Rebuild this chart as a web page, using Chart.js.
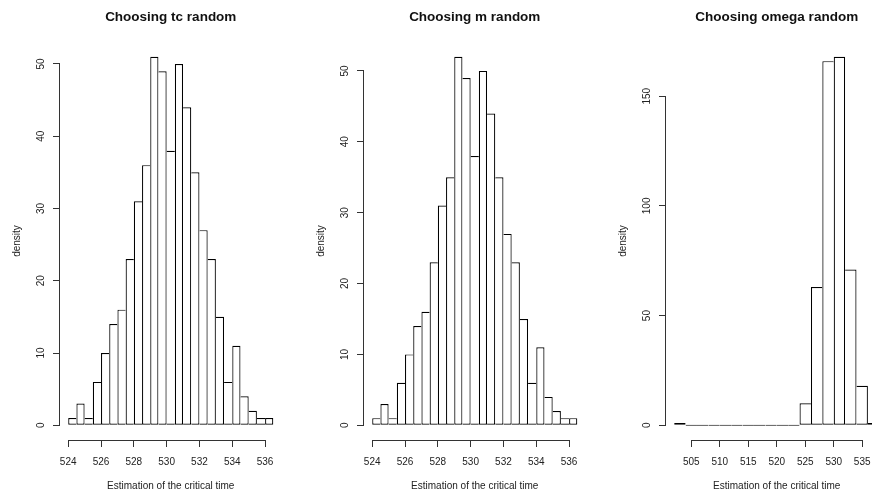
<!DOCTYPE html>
<html>
<head>
<meta charset="utf-8">
<script src="https://cdn.jsdelivr.net/npm/chart.js@4"></script>
<style>
  html, body { margin: 0; padding: 0; background: #fff; }
  body { width: 872px; height: 496px; overflow: hidden; position: relative; }
  canvas { position: absolute; top: 0; }
</style>
</head>
<body>
<canvas id="tcChart" width="302" height="496" style="left:0px"></canvas>
<canvas id="mChart" width="302" height="496" style="left:304px"></canvas>
<canvas id="omegaChart" width="302" height="496" style="left:606px"></canvas>
<script>
// histogram bins (lower edges) and counts
const tcBins = [524, 524.5, 525, 525.5, 526, 526.5, 527, 527.5, 528, 528.5, 529, 529.5, 530,
                530.5, 531, 531.5, 532, 532.5, 533, 533.5, 534, 534.5, 535, 535.5, 536];
const tcCounts = [1, 3, 1, 6, 10, 14, 16, 23, 31, 36, 51, 49, 38, 50, 44, 35, 27, 23, 15, 6, 11, 4, 2, 1, 1];
const mBins = tcBins;
const mCounts = [1, 3, 1, 6, 10, 14, 16, 23, 31, 35, 52, 49, 38, 50, 44, 35, 27, 23, 15, 6, 11, 4, 2, 1, 1];
const omegaBins = [502, 504, 506, 508, 510, 512, 514, 516, 518, 520, 522, 524, 526, 528, 530, 532, 534, 536];
const omegaCounts = [1, 0, 0, 0, 0, 0, 0, 0, 0, 0, 0, 10, 63, 166, 168, 71, 18, 1];

// tick labels
const tcTicksX = [524, 526, 528, 530, 532, 534, 536];
const tcTicksY = [0, 10, 20, 30, 40, 50];
const omegaTicksX = [505, 510, 515, 520, 525, 530, 535];
const omegaTicksY = [0, 50, 100, 150];

const axisColor = '#333';
const textColor = '#222';
Chart.defaults.font.family = '"Liberation Sans", Arial, sans-serif';
Chart.defaults.color = textColor;

// R-style axes: line only from first to last tick, rotated y labels
const rAxes = {
    id: 'rAxes',
    afterDraw(chart) {
        const {ctx, chartArea, scales: {x, y}} = chart;
        const xt = x.ticks, yt = y.ticks;
        ctx.save();
        ctx.strokeStyle = axisColor;
        ctx.lineWidth = 1;
        ctx.beginPath();
        const by = Math.round(chartArea.bottom) + 0.5;
        ctx.moveTo(x.getPixelForValue(xt[0].value), by);
        ctx.lineTo(x.getPixelForValue(xt[xt.length - 1].value), by);
        const lx = Math.round(chartArea.left) - 0.5;
        ctx.moveTo(lx, y.getPixelForValue(yt[0].value));
        ctx.lineTo(lx, y.getPixelForValue(yt[yt.length - 1].value));
        ctx.stroke();

        ctx.fillStyle = textColor;
        ctx.font = '10px "Liberation Sans", Arial, sans-serif';
        ctx.textAlign = 'center';
        ctx.textBaseline = 'middle';
        yt.forEach(t => {
            ctx.save();
            ctx.translate(chartArea.left - 19, y.getPixelForValue(t.value));
            ctx.rotate(-Math.PI / 2);
            ctx.fillText(String(t.value), 0, 0);
            ctx.restore();
        });
        ctx.restore();
    }
};

function makeHist(id, title, bins, binWidth, counts, ticksX, ticksY) {
    const xmin = bins[0], xmax = bins[bins.length - 1] + binWidth;
    const ymax = Math.max(...counts);
    const xpad = (xmax - xmin) * 0.04, ypad = ymax * 0.04;

    new Chart(document.getElementById(id), {
        type: 'bar',
        data: {
            datasets: [{
                data: bins.map((b, i) => ({x: b + binWidth / 2, y: counts[i]})),
                backgroundColor: '#fff',
                borderColor: '#000',
                borderSkipped: false,
                inflateAmount: 0,
                minBarLength: 1,
                barPercentage: 1,
                categoryPercentage: 1,
                // share edges between neighbours like R's rect()
                borderWidth: function(c) {
                    const d = c.dataset.data, i = c.dataIndex;
                    if (!d[i]) return 1;
                    const v = d[i].y;
                    const prev = i > 0 ? d[i - 1].y : -1;
                    const next = i < d.length - 1 ? d[i + 1].y : -1;
                    return {top: 1.2, bottom: 1.2, left: prev <= v ? 1.2 : 0, right: next < v ? 1.2 : 0};
                }
            }]
        },
        options: {
            responsive: false,
            animation: false,
            devicePixelRatio: 1,
            layout: {padding: {left: 0, right: 20.5, top: 0, bottom: 0}},
            plugins: {
                legend: {display: false},
                tooltip: {enabled: false},
                title: {
                    display: true,
                    text: title,
                    fullSize: false,
                    color: '#111',
                    font: {size: 13.5, weight: 'bold'},
                    padding: {top: 9.6, bottom: 16.2}
                }
            },
            scales: {
                x: {
                    type: 'linear',
                    min: xmin - xpad,
                    max: xmax + xpad,
                    offset: false,
                    afterBuildTicks: s => { s.ticks = ticksX.map(v => ({value: v})); },
                    afterFit: s => { s.height = 56; },
                    ticks: {autoSkip: false, maxRotation: 0, padding: 9, font: {size: 10}, color: textColor},
                    grid: {drawOnChartArea: false, drawTicks: true, tickLength: 7, color: axisColor, offset: false},
                    border: {display: false},
                    title: {display: true, text: 'Estimation of the critical time', font: {size: 10},
                            color: textColor, padding: {top: 0, bottom: 3.5}}
                },
                y: {
                    min: -ypad,
                    max: ymax + ypad,
                    afterBuildTicks: s => { s.ticks = ticksY.map(v => ({value: v})); },
                    afterFit: s => { s.width = 60; },
                    ticks: {display: false},
                    grid: {drawOnChartArea: false, drawTicks: true, tickLength: 7, color: axisColor},
                    border: {display: false},
                    title: {display: true, text: 'density', font: {size: 10},
                            color: textColor, padding: {top: 11, bottom: 0}}
                }
            }
        },
        plugins: [rAxes]
    });
}

makeHist('tcChart', 'Choosing tc random', tcBins, 0.5, tcCounts, tcTicksX, tcTicksY);
makeHist('mChart', 'Choosing m random', mBins, 0.5, mCounts, tcTicksX, tcTicksY);
makeHist('omegaChart', 'Choosing omega random', omegaBins, 2, omegaCounts, omegaTicksX, omegaTicksY);
</script>
</body>
</html>
